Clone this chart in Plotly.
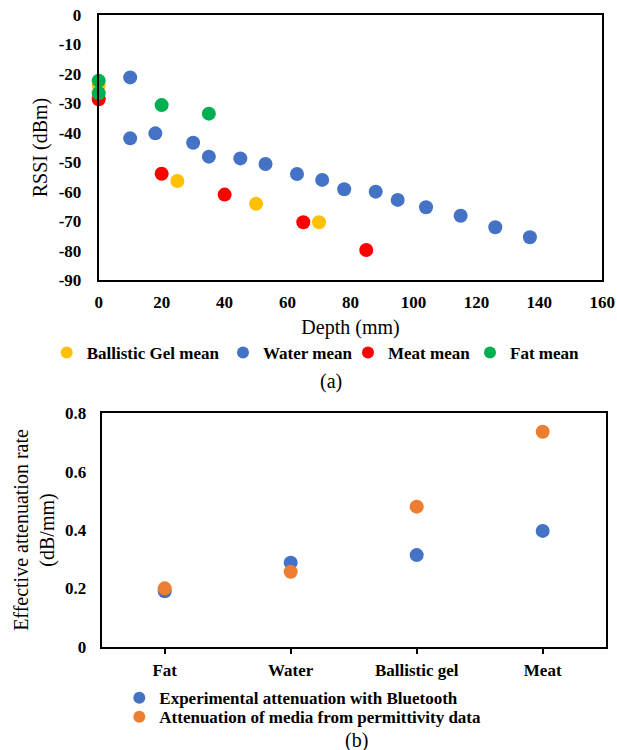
import plotly.graph_objects as go

FONT = "Liberation Serif"

# ---- (a) RSSI vs depth ----
gel_depth = [0, 25, 50, 70]
gel_rssi = [-24.0, -56.4, -64.1, -70.4]
water_depth = [10, 10, 18, 30, 35, 45, 53, 63, 71, 78, 88, 95, 104, 115, 126, 137]
water_rssi = [-21.2, -41.9, -40.2, -43.4, -48.1, -48.7, -50.6, -54.0, -56.0,
              -59.2, -60.0, -62.8, -65.3, -68.2, -72.1, -75.5]
meat_depth = [0, 20, 40, 65, 85]
meat_rssi = [-28.6, -53.9, -61.0, -70.4, -79.8]
fat_depth = [0, 0, 20, 35]
fat_rssi = [-22.3, -26.6, -30.6, -33.5]

rssi_tickvals = [0, -10, -20, -30, -40, -50, -60, -70, -80, -90]
rssi_ticktext = ["0", "-10", "-20", "-30", "-40", "-50", "-60", "-70", "-80", "-90"]
depth_tickvals = [0, 20, 40, 60, 80, 100, 120, 140, 160]

# ---- (b) attenuation rates ----
media = ["Fat", "Water", "Ballistic gel", "Meat"]
bluetooth_rate = [0.19, 0.288, 0.314, 0.397]
permittivity_rate = [0.200, 0.257, 0.48, 0.737]
rate_tickvals = [0, 0.2, 0.4, 0.6, 0.8]
rate_ticktext = ["0", "0.2", "0.4", "0.6", "0.8"]

W, H = 617, 750
def px(x):
    return x / W
def py(y):
    return 1 - y / H

YELLOW, BLUE, RED, GREEN, ORANGE = "#FFC000", "#4472C4", "#FF0000", "#00B050", "#ED7D31"
MS = 14

fig = go.Figure()
fig.add_trace(go.Scatter(x=gel_depth, y=gel_rssi, mode="markers", name="Ballistic Gel mean",
                         marker=dict(color=YELLOW, size=MS), cliponaxis=False,
                         xaxis="x", yaxis="y", legend="legend"))
fig.add_trace(go.Scatter(x=water_depth, y=water_rssi, mode="markers", name="Water mean",
                         marker=dict(color=BLUE, size=MS), cliponaxis=False,
                         xaxis="x", yaxis="y", legend="legend2"))
fig.add_trace(go.Scatter(x=meat_depth, y=meat_rssi, mode="markers", name="Meat mean",
                         marker=dict(color=RED, size=MS), cliponaxis=False,
                         xaxis="x", yaxis="y", legend="legend3"))
fig.add_trace(go.Scatter(x=fat_depth, y=fat_rssi, mode="markers", name="Fat mean",
                         marker=dict(color=GREEN, size=MS), cliponaxis=False,
                         xaxis="x", yaxis="y", legend="legend4"))

fig.add_trace(go.Scatter(x=media, y=bluetooth_rate, mode="markers",
                         name="Experimental attenuation with Bluetooth",
                         marker=dict(color=BLUE, size=MS), cliponaxis=False,
                         xaxis="x2", yaxis="y2", legend="legend5"))
fig.add_trace(go.Scatter(x=media, y=permittivity_rate, mode="markers",
                         name="Attenuation of media from permittivity data",
                         marker=dict(color=ORANGE, size=MS), cliponaxis=False,
                         xaxis="x2", yaxis="y2", legend="legend6"))

tickfont = dict(family=FONT, size=17, color="black", weight="bold")
titlefont = dict(family=FONT, size=20, color="black")
axis_common = dict(showline=True, linewidth=2, linecolor="black", mirror=True,
                   showgrid=False, zeroline=False, tickfont=tickfont)

def leg(text_x, y):
    return dict(x=px(text_x - 40), y=py(y), xanchor="left", yanchor="middle",
                orientation="h", bgcolor="rgba(0,0,0,0)", borderwidth=0,
                itemsizing="constant",
                font=dict(family=FONT, size=17, color="black", weight="bold"))

fig.update_layout(
    template="none",
    width=W, height=H, autosize=False,
    margin=dict(l=0, r=0, t=0, b=0, pad=0, autoexpand=False),
    paper_bgcolor="white", plot_bgcolor="white",
    showlegend=True,
    xaxis=dict(domain=[px(98.7), px(602.3)], anchor="y", range=[0, 160],
               tickvals=depth_tickvals, ticklabelstandoff=6, ticks="",
               title=dict(text="Depth (mm)", font=titlefont, standoff=9),
               automargin=True, **axis_common),
    yaxis=dict(domain=[py(280), py(15)], anchor="x", range=[-90, 0],
               tickvals=rssi_tickvals, ticktext=rssi_ticktext, ticklabelstandoff=12, ticks="",
               title=dict(text="RSSI (dBm)", font=titlefont, standoff=6),
               automargin=True, **axis_common),
    xaxis2=dict(domain=[px(101.7), px(605.7)], anchor="y2", type="category",
                categoryorder="array", categoryarray=media, range=[-0.5, 3.5],
                ticks="outside", ticklen=5, tickwidth=2, tickcolor="black",
                ticklabelstandoff=2, automargin=True, **axis_common),
    yaxis2=dict(domain=[py(646.7), py(413.3)], anchor="x2", range=[0, 0.8],
                tickvals=rate_tickvals, ticktext=rate_ticktext, ticklabelstandoff=10, ticks="",
                title=dict(text="Effective attenuation rate<br>(dB/mm)", font=titlefont, standoff=5),
                automargin=True, **axis_common),
    xaxis3=dict(overlaying="x2", anchor="y2", type="linear", range=[-0.5, 3.5],
                tickvals=list(range(len(media))), ticks="inside", ticklen=5, tickwidth=2,
                tickcolor="black", showticklabels=False, showline=False,
                showgrid=False, zeroline=False),
    legend=leg(86.7, 353),
    legend2=leg(263, 353),
    legend3=leg(388, 353),
    legend4=leg(510, 353),
    legend5=leg(159.3, 698.3),
    legend6=leg(159.3, 717.3),
    annotations=[
        dict(text="(a)", x=px(330.5), y=py(381.7), xref="paper", yref="paper",
             showarrow=False, xanchor="center", yanchor="middle",
             font=dict(family=FONT, size=20, color="black")),
        dict(text="(b)", x=px(356.7), y=py(740), xref="paper", yref="paper",
             showarrow=False, xanchor="center", yanchor="middle",
             font=dict(family=FONT, size=20, color="black")),
    ],
)

fig.write_html("out.html", config={"displayModeBar": False},
               post_script="document.body.style.margin='0px';document.body.style.overflow='hidden';")
